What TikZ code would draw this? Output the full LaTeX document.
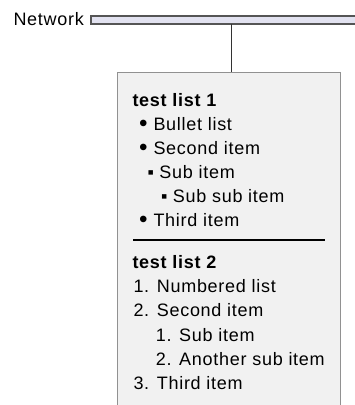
\documentclass[tikz,border=0pt]{standalone}
\usepackage{fontspec}
\usepackage{xcolor}
\usepackage{tikz}
\setmainfont{Liberation Sans}[LetterSpace=4]
\definecolor{netLavender}{RGB}{226,226,240}
\definecolor{netEdge}{RGB}{85,85,85}
\definecolor{hostFill}{RGB}{241,241,241}
\definecolor{hostEdge}{RGB}{145,145,145}
\newcommand\dotmark[1]{\makebox[#1][l]{\raisebox{-1pt}{\scalebox{1.35}{•}}}}
\newcommand\boxmark[1]{\makebox[#1][l]{▪}}

\begin{document}
\begin{tikzpicture}[x=1pt, y=-1pt,
		netbar/.style={draw=netEdge, fill=netLavender, line width=1.5pt, minimum width=300pt, minimum height=8pt, inner sep=0pt},
		host/.style={draw=hostEdge, fill=hostFill, line width=1pt, minimum width=223pt, minimum height=340pt, inner sep=0pt},
		line/.style={inner sep=0pt, anchor=base west, font=\fontsize{18}{21}\selectfont},
		title/.style={line, font=\fontsize{18}{21}\selectfont\bfseries}]
		\useasboundingbox (0,0) rectangle (355,405);
		% network bar and its label
		\node [netbar, anchor=north west] (net) at (90,15) {};
		\node [line] (netname) at (13.3,25) {Network};
		% the host box
		\node [host, anchor=north west] (box) at (117.3,71.7) {};
		\coordinate (tap) at (231.7,23.5);
		\draw [black!80, line width=1pt] (tap) -- (tap |- box.north);
		% first list
		\node [title] (titleA) at (132.3,106.7) {test list 1};
		\foreach \name/\x/\y/\txt in {a1/139/130/\dotmark{14.3pt}Bullet list, a2/139/154.3/\dotmark{14.3pt}Second item,
				a3/147.5/178.3/\boxmark{11.8pt}Sub item, a4/161/202.3/\boxmark{11.7pt}Sub sub item, a5/139/226.7/\dotmark{14.3pt}Third item}
			\node [line] (\name) at (\x,\y) {\txt};
		\draw [line width=1.2pt] (133,240) -- (325,240);
		% second list
		\node [title] (titleB) at (132.3,268.3) {test list 2};
		\foreach \name/\x/\y/\txt in {b1/133.3/292.3/1. Numbered list, b2/133.3/316.7/2. Second item,
				b3/155.7/341/1. Sub item, b4/155.7/365/2. Another sub item, b5/133.3/389/3. Third item}
			\node [line] (\name) at (\x,\y) {\txt};
\end{tikzpicture}
\end{document}
